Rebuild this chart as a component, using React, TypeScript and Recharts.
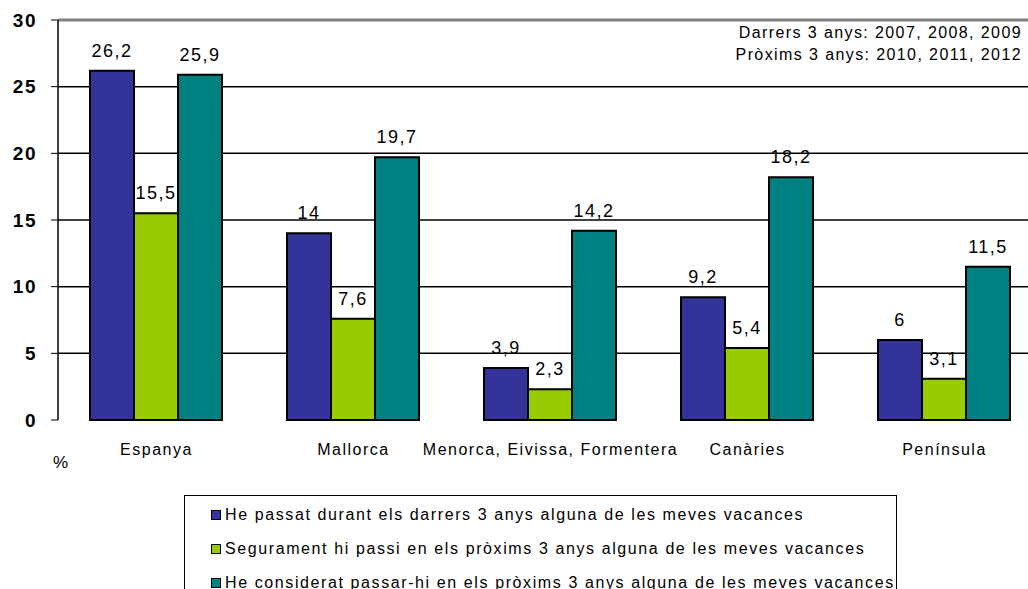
import React from 'react';
import { BarChart, Bar, XAxis, YAxis, CartesianGrid, LabelList, ReferenceLine } from 'recharts';

const categories = ['Espanya', 'Mallorca', 'Menorca, Eivissa, Formentera', 'Canàries', 'Península'];
const passat = [26.2, 14, 3.9, 9.2, 6];
const segurament = [15.5, 7.6, 2.3, 5.4, 3.1];
const considerat = [25.9, 19.7, 14.2, 18.2, 11.5];
const yTicks = [0, 5, 10, 15, 20, 25, 30];
const boundaryTicks = [0, 1, 2, 3, 4, 5];

const seriesInfo = [
  { key: 'passat', name: 'He passat durant els darrers 3 anys alguna de les meves vacances', color: '#333399' },
  { key: 'segurament', name: 'Segurament hi passi en els pròxims 3 anys alguna de les meves vacances', color: '#99CC00' },
  { key: 'considerat', name: 'He considerat passar-hi en els pròxims 3 anys alguna de les meves vacances', color: '#008080' },
];

const data = categories.map((name, i) => ({
  name,
  passat: passat[i],
  segurament: segurament[i],
  considerat: considerat[i],
}));

const FONT = '"Liberation Sans", Arial, sans-serif';
const fmt = (v: any) => String(v).replace('.', ',');

export default function App() {
  return (
    <div style={{ position: 'absolute', left: 0, top: 0, width: 1028, height: 589, overflow: 'hidden', background: '#fff', fontFamily: FONT }}>
      <BarChart
        width={1043}
        height={589}
        data={data}
        margin={{ top: 20, right: 0, left: 0, bottom: 129 }}
        barCategoryGap={32}
        barGap={0}
      >
        <CartesianGrid vertical={false} stroke="#000" strokeWidth={1.5} horizontalValues={[5, 10, 15, 20, 25]} />
        <XAxis
          xAxisId="grid"
          type="number"
          domain={[0, 5]}
          ticks={boundaryTicks}
          tick={false}
          tickSize={6}
          height={0}
          axisLine={{ stroke: '#808080', strokeWidth: 2 }}
          tickLine={{ stroke: '#000' }}
        />
        <XAxis
          xAxisId="cat"
          dataKey="name"
          height={40}
          axisLine={false}
          tickLine={false}
          tickSize={6}
          tickMargin={18}
          interval={0}
          tick={{ fontSize: 16, fill: '#000', fontFamily: FONT, letterSpacing: 1.5 }}
        />
        <YAxis
          domain={[0, 30]}
          ticks={yTicks}
          width={58}
          interval={0}
          axisLine={{ stroke: '#000', strokeWidth: 1.5 }}
          tickLine={{ stroke: '#000' }}
          tickSize={7}
          tickMargin={14}
          tick={{ fontSize: 19, fill: '#000', fontFamily: FONT, fontWeight: 'bold', letterSpacing: 1.5 }}
        />
        <ReferenceLine y={30} xAxisId="cat" stroke="#808080" strokeWidth={3} />
        {seriesInfo.map((s) => (
          <Bar
            key={s.key}
            xAxisId="cat"
            dataKey={s.key}
            name={s.name}
            fill={s.color}
            stroke="#000"
            strokeWidth={2}
            isAnimationActive={false}
          >
            <LabelList
              dataKey={s.key}
              position="top"
              offset={14}
              formatter={fmt}
              style={{ fontSize: 18, fill: '#000', fontFamily: FONT, letterSpacing: 1.5 }}
            />
          </Bar>
        ))}
      </BarChart>

      <div style={{ position: 'absolute', right: 6, top: 22, fontSize: 16, lineHeight: '22px', color: '#000', letterSpacing: 1.4, textAlign: 'right' }}>
        <div>Darrers 3 anys: 2007, 2008, 2009</div>
        <div>Pròxims 3 anys: 2010, 2011, 2012</div>
      </div>

      <div style={{ position: 'absolute', left: 53, top: 453, fontSize: 17, color: '#000' }}>%</div>

      <div
        style={{
          position: 'absolute',
          left: 184,
          top: 495,
          width: 713,
          height: 110,
          border: '1px solid #000',
          boxSizing: 'border-box',
        }}
      >
        {seriesInfo.map((s, i) => (
          <div
            key={s.key}
            style={{ position: 'absolute', left: 26, top: 9 + i * 34, height: 20, display: 'flex', alignItems: 'center', fontSize: 16, whiteSpace: 'nowrap', letterSpacing: 1.6 }}
          >
            <span
              style={{ display: 'inline-block', width: 8, height: 8, background: s.color, border: '1.5px solid #000', marginRight: 4 }}
            />
            {s.name}
          </div>
        ))}
      </div>
    </div>
  );
}
